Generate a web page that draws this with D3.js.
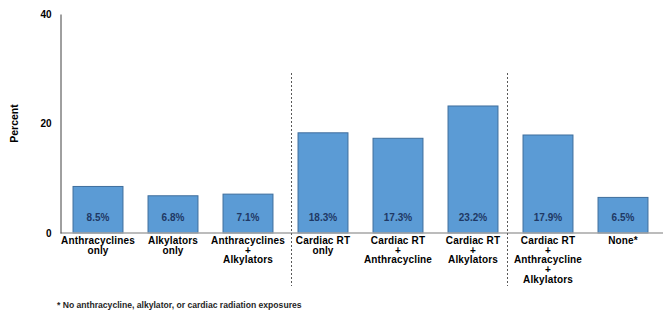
<!DOCTYPE html>
<html>
<head>
<meta charset="utf-8">
<script src="https://cdn.jsdelivr.net/npm/d3@7"></script>
<style>
  body { margin: 0; background: #fff; }
  svg { font-family: "Liberation Sans", Arial, sans-serif; font-weight: bold; }
</style>
</head>
<body>
<div id="chart"></div>
<script>
// category labels, one array of lines per bar
const categories = [
  ["Anthracyclines", "only"],
  ["Alkylators", "only"],
  ["Anthracyclines", "+", "Alkylators"],
  ["Cardiac RT", "only"],
  ["Cardiac RT", "+", "Anthracycline"],
  ["Cardiac RT", "+", "Alkylators"],
  ["Cardiac RT", "+", "Anthracycline", "+", "Alkylators"],
  ["None*"]
]
const percents = [8.5, 6.8, 7.1, 18.3, 17.3, 23.2, 17.9, 6.5]
const yTicks = [0, 20, 40]
// group separators, in category-index units
const separators = [3.08, 5.96]
const footnote = "* No anthracycline, alkylator, or cardiac radiation exposures"

const width = 672, height = 324
const margin = {left: 60.5, right: 11.5, top: 14, bottom: 91}

const svg = d3.select("#chart").append("svg")
  .attr("width", width)
  .attr("height", height)

const keys = categories.map((c, i) => i)
const x = d3.scaleBand()
  .domain(keys)
  .range([margin.left, width - margin.right])
  .paddingInner(0.334)
  .paddingOuter(0.167)

const y = d3.scaleLinear()
  .domain([0, 40])
  .range([height - margin.bottom, margin.top])

const xi = d3.scaleLinear()
  .domain([0, categories.length])
  .range([margin.left, width - margin.right])

// bars
svg.append("g")
  .selectAll("rect")
  .data(percents)
  .join("rect")
    .attr("x", (d, i) => x(i))
    .attr("y", d => y(d))
    .attr("width", x.bandwidth())
    .attr("height", d => y(0) - y(d))
    .attr("fill", "#5b9bd5")
    .attr("stroke", "#3f6e9c")
    .attr("stroke-width", 1)

// value labels inside bars
svg.append("g")
  .selectAll("text")
  .data(percents)
  .join("text")
    .attr("x", (d, i) => x(i) + x.bandwidth() / 2)
    .attr("y", y(0) - 12.5)
    .attr("text-anchor", "middle")
    .attr("font-size", 10)
    .attr("fill", "#1f3864")
    .text(d => d.toFixed(1) + "%")

// x axis line
svg.append("line")
  .attr("x1", margin.left).attr("x2", width - 9)
  .attr("y1", y(0)).attr("y2", y(0))
  .attr("stroke", "#a6a6a6")
  .attr("stroke-width", 1.5)

// y axis
const yAxis = svg.append("g")
  .attr("transform", `translate(${margin.left},0)`)
  .call(d3.axisLeft(y).tickValues(yTicks).tickSize(0).tickPadding(9))
yAxis.select(".domain").attr("stroke", "#404040").attr("stroke-width", 1)
yAxis.selectAll("text")
  .attr("font-size", 10)
  .attr("font-family", "Liberation Sans, Arial, sans-serif")
  .attr("font-weight", "bold")
  .attr("fill", "#000")

// y axis title
svg.append("text")
  .attr("transform", `translate(18,${(y(0) + y(40)) / 2}) rotate(-90)`)
  .attr("text-anchor", "middle")
  .attr("font-size", 10.5)
  .text("Percent")

// category labels
const labels = svg.append("g")
  .selectAll("text")
  .data(categories)
  .join("text")
    .attr("text-anchor", "middle")
    .attr("font-size", 10)
    .attr("letter-spacing", 0.15)
    .attr("fill", "#000")
labels.selectAll("tspan")
  .data((d, i) => d.map(line => ({line, i})))
  .join("tspan")
    .attr("x", d => x(d.i) + x.bandwidth() / 2)
    .attr("y", (d, j) => y(0) + 10.8 + j * 9.7)
    .text(d => d.line)

// dashed separators
svg.append("g")
  .selectAll("line")
  .data(separators)
  .join("line")
    .attr("x1", d => xi(d)).attr("x2", d => xi(d))
    .attr("y1", 73).attr("y2", 286)
    .attr("stroke", "#595959")
    .attr("stroke-width", 1)
    .attr("stroke-dasharray", "2,2")

// footnote
svg.append("text")
  .attr("x", 57)
  .attr("y", 308)
  .attr("font-size", 8.6)
  .attr("fill", "#262626")
  .text(footnote)
</script>
</body>
</html>
